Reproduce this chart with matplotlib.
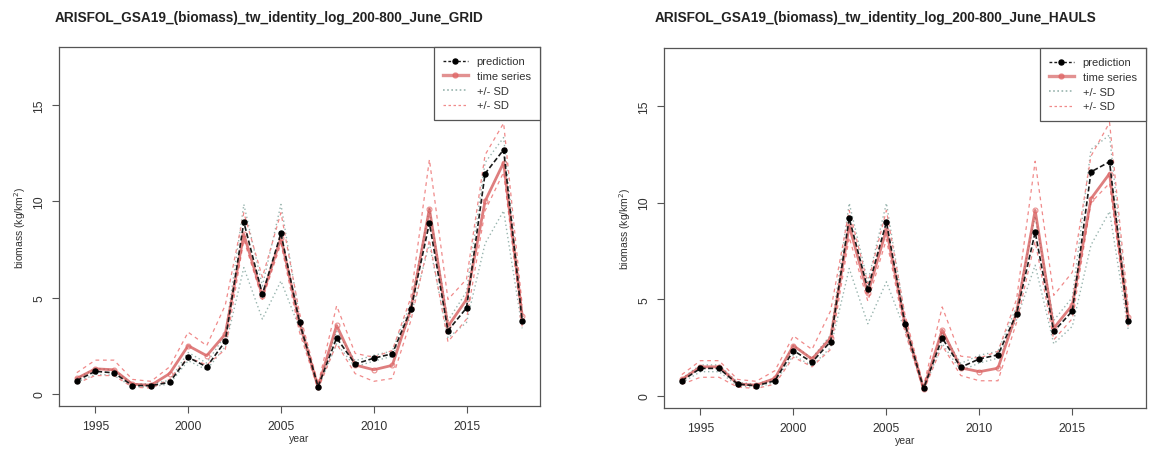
import matplotlib
matplotlib.use("Agg")
import matplotlib.pyplot as plt

plt.rcParams['font.family'] = ['Liberation Sans', 'DejaVu Sans']

years = list(range(1994, 2019))
x_ticks = [1995, 2000, 2005, 2010, 2015]
y_ticks = [0, 5, 10, 15]

title_grid = "ARISFOL_GSA19_(biomass)_tw_identity_log_200-800_June_GRID"
title_hauls = "ARISFOL_GSA19_(biomass)_tw_identity_log_200-800_June_HAULS"

# GRID model
grid_pred = [0.69, 1.17, 1.09, 0.43, 0.43, 0.60, 1.90, 1.40, 2.73, 8.91, 5.16, 8.33, 3.71,
             0.38, 2.90, 1.55, 1.85, 2.08, 4.38, 8.87, 3.28, 4.46, 11.43, 12.67, 3.78]
grid_pred_lo = [0.60, 1.02, 0.96, 0.36, 0.36, 0.52, 1.72, 1.25, 2.45, 6.55, 3.88, 5.86, 3.40,
                0.30, 2.60, 1.40, 1.70, 1.95, 4.05, 7.80, 2.90, 3.70, 7.80, 9.50, 3.40]
grid_pred_hi = [0.80, 1.32, 1.24, 0.52, 0.52, 0.70, 2.15, 1.60, 3.05, 9.83, 5.60, 9.83, 4.00,
                0.46, 3.25, 1.72, 2.00, 2.22, 4.70, 9.60, 3.80, 5.30, 12.00, 13.30, 4.15]
grid_obs = [0.80, 1.30, 1.25, 0.50, 0.45, 1.05, 2.50, 1.98, 3.10, 8.28, 5.10, 8.10, 3.70,
            0.35, 3.55, 1.50, 1.25, 1.48, 4.40, 9.60, 3.50, 4.90, 10.00, 12.00, 4.05]
grid_obs_lo = [0.55, 0.95, 0.95, 0.35, 0.30, 0.75, 1.90, 1.50, 2.30, 8.00, 4.90, 7.80, 3.20,
               0.25, 2.60, 1.05, 0.65, 0.80, 3.80, 8.00, 2.70, 3.88, 9.50, 11.50, 3.50]
grid_obs_hi = [1.10, 1.75, 1.75, 0.75, 0.65, 1.40, 3.20, 2.50, 4.60, 9.40, 6.05, 9.40, 4.20,
               0.50, 4.57, 2.10, 1.90, 2.25, 5.00, 12.16, 4.90, 5.95, 12.40, 14.05, 4.60]

# HAULS model
hauls_pred = [0.78, 1.42, 1.42, 0.61, 0.52, 0.78, 2.34, 1.74, 2.81, 9.19, 5.52, 8.99, 3.71,
              0.38, 2.99, 1.48, 1.91, 2.12, 4.25, 8.47, 3.33, 4.39, 11.59, 12.11, 3.87]
hauls_pred_lo = [0.68, 1.25, 1.25, 0.52, 0.44, 0.68, 2.10, 1.55, 2.50, 6.59, 3.73, 5.90, 3.40,
                 0.30, 2.70, 1.30, 1.70, 1.95, 3.95, 6.76, 2.69, 3.60, 7.80, 9.54, 3.45]
hauls_pred_hi = [0.90, 1.60, 1.60, 0.70, 0.60, 0.90, 2.60, 1.95, 3.15, 9.97, 5.90, 9.97, 4.05,
                 0.46, 3.30, 1.68, 2.10, 2.30, 4.60, 9.30, 3.90, 5.10, 12.75, 13.50, 4.25]
hauls_obs = [0.85, 1.50, 1.50, 0.62, 0.55, 0.90, 2.60, 1.90, 3.00, 8.80, 5.30, 8.60, 3.72,
             0.35, 3.40, 1.45, 1.25, 1.43, 4.30, 9.60, 3.50, 4.70, 10.20, 11.50, 4.10]
hauls_obs_lo = [0.60, 0.96, 0.96, 0.45, 0.38, 0.60, 2.00, 1.50, 2.40, 8.20, 4.90, 8.10, 3.30,
                0.25, 2.60, 1.05, 0.78, 0.78, 3.80, 8.00, 2.90, 4.00, 10.00, 11.00, 3.60]
hauls_obs_hi = [1.10, 1.82, 1.82, 0.85, 0.75, 1.30, 3.10, 2.40, 4.40, 9.60, 5.80, 9.60, 4.20,
                0.50, 4.60, 2.05, 1.95, 2.30, 5.00, 12.14, 5.20, 6.40, 12.40, 14.14, 4.70]

W, H = 1153, 452
fig = plt.figure(figsize=(W / 100, H / 100), dpi=100)

SD_PRED_COLOR = '#98b4ae'
SD_OBS_COLOR = '#f08a8a'
TS_COLOR = '#d04848'
FRAME = '#555555'


def draw_panel(rect, title, title_x, pred, pred_lo, pred_hi, obs, obs_lo, obs_hi):
    ax = fig.add_axes([rect[0] / W, 1 - rect[3] / H, (rect[2] - rect[0]) / W,
                       (rect[3] - rect[1]) / H])
    ax.plot(years, pred_lo, ls=(0, (1, 2)), color=SD_PRED_COLOR, lw=1.0)
    ax.plot(years, pred_hi, ls=(0, (1, 2)), color=SD_PRED_COLOR, lw=1.0)
    ax.plot(years, obs_lo, ls=(0, (3, 3)), color=SD_OBS_COLOR, lw=0.9)
    ax.plot(years, obs_hi, ls=(0, (3, 3)), color=SD_OBS_COLOR, lw=0.9)
    ax.plot(years, obs, color=TS_COLOR, alpha=0.7, lw=2.0, marker='o', ms=3.5,
            mfc='none', mec='#e06060', mew=0.8)
    ax.plot(years, pred, color='#1a1a1a', ls=(0, (3, 1.5)), lw=1.2, marker='o', ms=3.6,
            mfc='black', mec='black')

    ax.set_xlim(1993.04, 2018.96)
    ax.set_ylim(-0.63, 18.0)
    ax.set_xticks(x_ticks)
    ax.set_yticks(y_ticks)
    ax.set_yticklabels([str(v) for v in y_ticks], rotation=90, va='center')
    ax.tick_params(axis='both', direction='out', length=5, width=0.8, color=FRAME,
                   labelsize=8.8, labelcolor='#333333', pad=5)
    for s in ax.spines.values():
        s.set_color(FRAME)
        s.set_linewidth(0.9)
    ax.set_xlabel('year', fontsize=7.5, color='#333333', labelpad=1)
    ax.set_ylabel('biomass (kg/km$^2$)', fontsize=7.5, color='#333333', labelpad=4)

    leg_handles = [
        plt.Line2D([], [], color='#1a1a1a', ls=(0, (2, 1.5)), lw=1.0, marker='o', ms=3.6,
                   mfc='black', mec='black'),
        plt.Line2D([], [], color=TS_COLOR, alpha=0.6, lw=2.4, marker='o', ms=3.6,
                   mfc='#e06060', mec='#e06060'),
        plt.Line2D([], [], color=SD_PRED_COLOR, ls=(0, (1, 1.5)), lw=1.2),
        plt.Line2D([], [], color=SD_OBS_COLOR, ls=(0, (2, 2)), lw=0.9),
    ]
    leg = ax.legend(leg_handles, ['prediction', 'time series', '+/- SD', '+/- SD'],
                    loc='upper right', borderaxespad=0, fancybox=False, framealpha=1,
                    edgecolor=FRAME, fontsize=8, handlelength=2.2, handletextpad=0.8,
                    labelspacing=0.42, borderpad=0.85)
    leg.get_frame().set_linewidth(0.9)
    for t in leg.get_texts():
        t.set_color('#333333')

    fig.text(title_x / W, 1 - 18 / H, title, ha='center', va='center',
             fontsize=9.8, fontweight='bold', color='#222222')
    return ax


draw_panel((59, 48, 540, 407), title_grid, 269,
           grid_pred, grid_pred_lo, grid_pred_hi, grid_obs, grid_obs_lo, grid_obs_hi)
draw_panel((664, 49, 1146, 409), title_hauls, 876,
           hauls_pred, hauls_pred_lo, hauls_pred_hi, hauls_obs, hauls_obs_lo, hauls_obs_hi)

fig.savefig('out.png', dpi=100)
